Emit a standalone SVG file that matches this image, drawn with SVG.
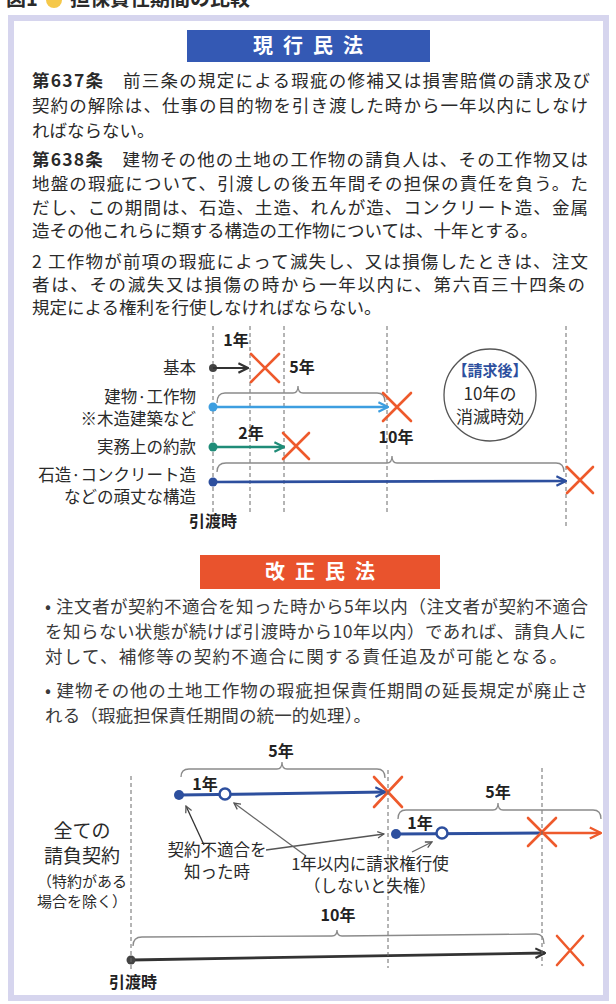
<svg xmlns="http://www.w3.org/2000/svg" width="616" height="1004" viewBox="0 0 616 1004">
<style>
  text { font-family: "Noto Sans CJK JP", "Noto Sans", sans-serif; fill: #2a2a2a; }
  .body { font-size: 17.5px; }
  .bul { font-size: 17.5px; fill: #3a3a3a; }
  .b { font-weight: bold; }
  .lbl { font-size: 16.5px; text-anchor: end; }
  .yr { font-size: 16px; font-weight: bold; text-anchor: middle; fill: #222; }
  .hdr { font-size: 20px; font-weight: bold; fill: #fff; text-anchor: middle; letter-spacing: 10px; }
  .dash { stroke: #6a6a6a; stroke-width: 1; stroke-dasharray: 4 3; fill: none; }
  .brace { stroke: #8a8a8a; stroke-width: 1.3; fill: none; }
  .x { stroke: #ee5a2c; stroke-width: 2.6; stroke-linecap: round; }
  .cen { text-anchor: middle; }
</style>
<defs>
  <marker id="mDark" viewBox="0 0 10 10" refX="9" refY="5" markerWidth="12" markerHeight="12" markerUnits="userSpaceOnUse" orient="auto"><path d="M1,1 L9,5 L1,9" fill="none" stroke="#333" stroke-width="1.8"/></marker>
  <marker id="mLight" viewBox="0 0 10 10" refX="9" refY="5" markerWidth="12" markerHeight="12" markerUnits="userSpaceOnUse" orient="auto"><path d="M1,1 L9,5 L1,9" fill="none" stroke="#3d9ee0" stroke-width="1.8"/></marker>
  <marker id="mTeal" viewBox="0 0 10 10" refX="9" refY="5" markerWidth="12" markerHeight="12" markerUnits="userSpaceOnUse" orient="auto"><path d="M1,1 L9,5 L1,9" fill="none" stroke="#1f8c78" stroke-width="1.8"/></marker>
  <marker id="mNavy" viewBox="0 0 10 10" refX="9" refY="5" markerWidth="12" markerHeight="12" markerUnits="userSpaceOnUse" orient="auto"><path d="M1,1 L9,5 L1,9" fill="none" stroke="#2d4f9e" stroke-width="1.8"/></marker>
  <marker id="mOrange" viewBox="0 0 10 10" refX="9" refY="5" markerWidth="14" markerHeight="14" markerUnits="userSpaceOnUse" orient="auto"><path d="M1,1 L9,5 L1,9" fill="none" stroke="#ee5a2c" stroke-width="1.6"/></marker>
  <marker id="mGray" viewBox="0 0 10 10" refX="9" refY="5" markerWidth="8" markerHeight="8" markerUnits="userSpaceOnUse" orient="auto"><path d="M1,1 L9,5 L1,9" fill="none" stroke="#555" stroke-width="1.6"/></marker>
</defs>

<rect width="616" height="1004" fill="#fff"/>
<g id="title">
  <text x="6" y="6" font-size="20" class="b">図1</text>
  <circle cx="54" cy="0" r="8" fill="#f5c84a"/>
  <text x="70" y="6" font-size="20" class="b">担保責任期間の比較</text>
</g>
<rect id="frame" x="11" y="18" width="595" height="980" fill="#fff" stroke="#d6d5ee" stroke-width="6"/>

<g id="header-current">
  <rect x="187" y="30" width="243" height="32" fill="#3459b4"/>
  <text x="313" y="53" class="hdr">現行民法</text>
</g>

<g id="text-current">
  <text class="body" x="32" y="87" textLength="558" lengthAdjust="spacing"><tspan class="b">第637条</tspan>　前三条の規定による瑕疵の修補又は損害賠償の請求及び</text>
  <text class="body" x="32" y="112" textLength="556" lengthAdjust="spacing">契約の解除は、仕事の目的物を引き渡した時から一年以内にしなけ</text>
  <text class="body" x="32" y="137">ればならない。</text>
  <text class="body" x="32" y="166" textLength="556" lengthAdjust="spacing"><tspan class="b">第638条</tspan>　建物その他の土地の工作物の請負人は、その工作物又は</text>
  <text class="body" x="32" y="190" textLength="556" lengthAdjust="spacing">地盤の瑕疵について、引渡しの後五年間その担保の責任を負う。た</text>
  <text class="body" x="32" y="214" textLength="556" lengthAdjust="spacing">だし、この期間は、石造、土造、れんが造、コンクリート造、金属</text>
  <text class="body" x="32" y="237">造その他これらに類する構造の工作物については、十年とする。</text>
  <text class="body" x="32" y="268" textLength="556" lengthAdjust="spacing">2 工作物が前項の瑕疵によって滅失し、又は損傷したときは、注文</text>
  <text class="body" x="32" y="291" textLength="553" lengthAdjust="spacing">者は、その滅失又は損傷の時から一年以内に、第六百三十四条の</text>
  <text class="body" x="32" y="314">規定による権利を行使しなければならない。</text>
</g>

<g id="grid-current">
  <line class="dash" x1="213" y1="326" x2="213" y2="512"/>
  <line class="dash" x1="250" y1="326" x2="250" y2="512"/>
  <line class="dash" x1="284" y1="326" x2="284" y2="512"/>
  <line class="dash" x1="387" y1="326" x2="387" y2="512"/>
  <line class="dash" x1="566" y1="326" x2="566" y2="526"/>
</g>

<g id="labels-current">
  <text class="lbl" x="196" y="374">基本</text>
  <text class="lbl" x="196" y="403">建物·工作物</text>
  <text class="lbl" x="196" y="425" font-size="12.5">※木造建築など</text>
  <text class="lbl" x="196" y="453">実務上の約款</text>
  <text class="lbl" x="196" y="481">石造·コンクリート造</text>
  <text class="lbl" x="196" y="503">などの頑丈な構造</text>
  <text class="yr" x="236" y="346">1年</text>
  <text class="yr" x="302" y="373">5年</text>
  <text class="yr" x="251" y="439">2年</text>
  <text class="yr" x="396" y="443">10年</text>
  <text class="yr" x="213" y="527">引渡時</text>
</g>

<g id="braces-current">
  <path class="brace" d="M217,403 Q217,393 225,393 L293,393 Q298,393 298,386 Q298,393 303,393 L377,393 Q385,393 385,402"/>
  <path class="brace" d="M217,472 Q217,463 226,463 L387,463 Q392,463 392,456 Q392,463 397,463 L556,463 Q564,463 564,472"/>
</g>

<g id="connectors">
  <circle cx="213" cy="368" r="4" fill="#444"/>
  <line x1="213" y1="368" x2="248" y2="368" stroke="#333" stroke-width="2.2" marker-end="url(#mDark)"/>
  <circle cx="213" cy="407" r="4.5" fill="#3d9ee0"/>
  <line x1="213" y1="407" x2="388" y2="407" stroke="#3d9ee0" stroke-width="2.6" marker-end="url(#mLight)"/>
  <circle cx="213" cy="447" r="4.5" fill="#1f8c78"/>
  <line x1="213" y1="447" x2="284" y2="447" stroke="#1f8c78" stroke-width="2.6" marker-end="url(#mTeal)"/>
  <circle cx="213" cy="482" r="4.5" fill="#2d4f9e"/>
  <line x1="213" y1="482" x2="566" y2="481" stroke="#2d4f9e" stroke-width="2.6" marker-end="url(#mNavy)"/>

  <line x1="179" y1="795" x2="385" y2="792" stroke="#2d4f9e" stroke-width="3" marker-end="url(#mNavy)"/>
  <circle cx="179" cy="795" r="5" fill="#2d4f9e"/>
  <circle cx="225" cy="794" r="5.5" fill="#fff" stroke="#2d4f9e" stroke-width="2.5"/>
  <line x1="396" y1="834" x2="542" y2="833" stroke="#2d4f9e" stroke-width="3"/>
  <line x1="542" y1="833" x2="601" y2="833" stroke="#ee5a2c" stroke-width="2.6" marker-end="url(#mOrange)"/>
  <circle cx="396" cy="834" r="5" fill="#2d4f9e"/>
  <circle cx="442" cy="833" r="5.5" fill="#fff" stroke="#2d4f9e" stroke-width="2.5"/>

  <line x1="131" y1="960" x2="545" y2="953" stroke="#333" stroke-width="2.8" marker-end="url(#mDark)"/>
  <circle cx="131" cy="960" r="4.5" fill="#444"/>

  <line x1="204" y1="845" x2="186" y2="806" stroke="#333" stroke-width="1.3" marker-end="url(#mGray)"/>
  <line x1="266" y1="850" x2="384" y2="834" stroke="#555" stroke-width="1.3" marker-end="url(#mGray)"/>
  <line x1="306" y1="856" x2="234" y2="803" stroke="#666" stroke-width="1.3" marker-end="url(#mGray)"/>
  <line x1="412" y1="852" x2="432" y2="842" stroke="#666" stroke-width="1.3" marker-end="url(#mGray)"/>
</g>

<g id="cross-marks">
  <path class="x" d="M251,354 L279,382 M279,354 L251,382"/>
  <path class="x" d="M383,393 L411,421 M411,393 L383,421"/>
  <path class="x" d="M283,433 L309,459 M309,433 L283,459"/>
  <path class="x" d="M567,467 L593,493 M593,467 L567,493"/>
  <path class="x" d="M374,777 L402,807 M402,777 L374,807"/>
  <path class="x" d="M528,818 L556,846 M556,818 L528,846"/>
  <path class="x" d="M557,936 L583,965 M583,936 L557,965"/>
</g>

<g id="note-circle">
  <circle cx="490" cy="395" r="46" fill="#fff" stroke="#555" stroke-width="1.3"/>
  <text x="490" y="376" class="cen b" font-size="15" style="fill:#2d4f9e">【請求後】</text>
  <text x="490" y="400" class="cen" font-size="17">10年の</text>
  <text x="490" y="423" class="cen" font-size="17">消滅時効</text>
</g>

<g id="header-revised">
  <rect x="200" y="555" width="240" height="34" fill="#e9532d"/>
  <text x="325" y="579" class="hdr">改正民法</text>
</g>

<g id="text-revised">
  <text class="bul" x="45" y="613" textLength="543" lengthAdjust="spacing">• 注文者が契約不適合を知った時から5年以内（注文者が契約不適合</text>
  <text class="bul" x="45" y="638" textLength="541" lengthAdjust="spacing">を知らない状態が続けば引渡時から10年以内）であれば、請負人に</text>
  <text class="bul" x="45" y="663" textLength="522" lengthAdjust="spacing">対して、補修等の契約不適合に関する責任追及が可能となる。</text>
  <text class="bul" x="45" y="697" textLength="543" lengthAdjust="spacing">• 建物その他の土地工作物の瑕疵担保責任期間の延長規定が廃止さ</text>
  <text class="bul" x="45" y="722" textLength="326" lengthAdjust="spacing">れる（瑕疵担保責任期間の統一的処理）。</text>
</g>

<g id="grid-revised">
  <line class="dash" x1="131" y1="776" x2="131" y2="970"/>
  <line class="dash" x1="388" y1="770" x2="388" y2="968"/>
  <line class="dash" x1="542" y1="768" x2="542" y2="966"/>
</g>

<g id="braces-revised">
  <path class="brace" d="M181,777 Q181,769 189,769 L277,769 Q282,769 282,762 Q282,769 287,769 L377,769 Q385,769 385,778"/>
  <path class="brace" d="M398,819 Q398,810 406,810 L493,810 Q498,810 498,803 Q498,810 503,810 L593,810 Q601,810 601,819"/>
  <path class="brace" d="M133,946 Q133,937 142,937 L332,936 Q337,936 337,930 Q337,936 342,936 L536,934 Q544,934 544,944"/>
</g>

<g id="labels-revised">
  <text class="yr" x="281" y="757">5年</text>
  <text class="yr" x="205" y="790">1年</text>
  <text class="yr" x="498" y="798">5年</text>
  <text class="yr" x="420" y="829">1年</text>
  <text class="yr" x="338" y="921">10年</text>
  <text class="yr" x="133" y="988">引渡時</text>
  <text class="cen" x="82" y="838" font-size="19">全ての</text>
  <text class="cen" x="82" y="863" font-size="19">請負契約</text>
  <text class="cen" x="82" y="887" font-size="15">（特約がある</text>
  <text class="cen" x="82" y="907" font-size="15">場合を除く）</text>
  <text class="cen" x="217" y="856" font-size="16.5">契約不適合を</text>
  <text class="cen" x="217" y="878" font-size="16.5">知った時</text>
  <text class="cen" x="370" y="870" font-size="16.5">1年以内に請求権行使</text>
  <text class="cen" x="370" y="892" font-size="16.5">（しないと失権）</text>
</g>
</svg>
